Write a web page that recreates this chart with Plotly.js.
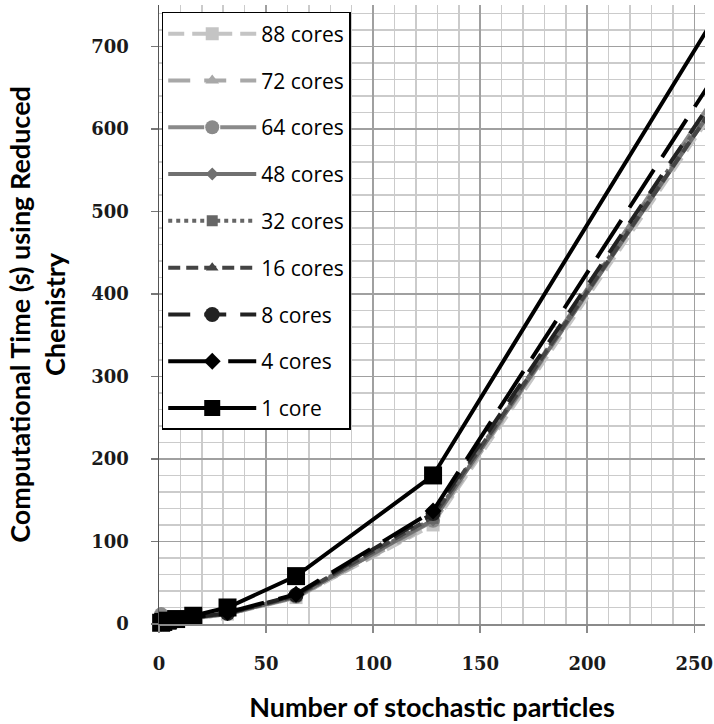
<!DOCTYPE html>
<html><head><meta charset="utf-8">
<script src="https://cdn.plot.ly/plotly-3.0.1.min.js"></script>
<style>html,body{margin:0;padding:0;background:#fff}#chart{width:714px;height:724px}</style>
</head><body><div id="chart"></div>
<script>
// Data
const particles = [1, 2, 4, 8, 16, 32, 64, 128, 256];
const seriesNames = ['88 cores', '72 cores', '64 cores', '48 cores', '32 cores', '16 cores', '8 cores', '4 cores', '1 core'];
const cores88 = [2, 2, 3, 4, 7, 12, 32, 120, 610];
const cores72 = [2, 2, 3, 4, 7, 12, 32, 122, 618];
const cores64 = [12, 3, 3, 4, 7.5, 12.5, 33, 125, 625];
const cores48 = [1.5, 2, 3, 4, 7.5, 12.5, 33, 126, 615];
const cores32 = [1.5, 2, 3, 4, 7.5, 12.5, 34, 128, 620];
const cores16 = [1, 1.5, 2.5, 4, 8, 13, 34, 130, 615];
const cores8 = [1, 1.5, 2.5, 4, 8, 13, 35, 134, 625];
const cores4 = [1, 1.5, 2.5, 4, 8, 14, 36, 137, 650];
const cores1 = [1.5, 2.5, 4, 6, 10, 20, 58, 180, 720];
const xTicks = [0, 50, 100, 150, 200, 250];
const yTicks = [0, 100, 200, 300, 400, 500, 600, 700];

const values = [cores88, cores72, cores64, cores48, cores32, cores16, cores8, cores4, cores1];
const styles = [
  {color: '#c4c4c4', dash: '16px,8px', symbol: 'square', size: 13},
  {color: '#a8a8a8', dash: '22px,14px', symbol: 'triangle-up', size: 12},
  {color: '#8a8a8a', dash: '36px,16px', symbol: 'circle', size: 14},
  {color: '#707070', dash: 'solid', symbol: 'diamond', size: 10},
  {color: '#666666', dash: 'dot', symbol: 'square', size: 11},
  {color: '#444444', dash: '12px,6px', symbol: 'triangle-up', size: 11},
  {color: '#222222', dash: '22px,14px', symbol: 'circle', size: 15},
  {color: '#000000', dash: '45px,15px', symbol: 'diamond', size: 13},
  {color: '#000000', dash: 'solid', symbol: 'square', size: 18}
];

const traces = values.map((v, i) => ({
  x: particles, y: v, name: seriesNames[i], type: 'scatter', mode: 'lines+markers',
  legendgroup: 'g' + i,
  line: {color: styles[i].color, width: 4, dash: styles[i].dash},
  marker: {color: styles[i].color, symbol: styles[i].symbol, size: styles[i].size},
  cliponaxis: false
}));

const tickFont = {family: 'DejaVu Serif', size: 18, color: '#1a1a1a', weight: 'bold'};
const titleFont = {family: 'Lato', size: 27, color: '#000', weight: 'bold'};

const layout = {
  width: 714, height: 724,
  margin: {l: 159, r: 9, t: 5, b: 100},
  paper_bgcolor: '#fff', plot_bgcolor: '#fff',
  showlegend: true,
  xaxis: {
    range: [0, 255], tickvals: xTicks, ticktext: xTicks.map(String),
    showgrid: true, gridcolor: '#a0a0a0', gridwidth: 1.5,
    minor: {dtick: 10, tick0: 0, showgrid: true, gridcolor: '#cbcbcb', gridwidth: 1.5},
    zeroline: false, showline: true, linecolor: '#8a8a8a', linewidth: 1.5,
    ticks: 'outside', ticklen: 7, tickcolor: '#8a8a8a', tickwidth: 1.5,
    tickfont: tickFont, ticklabelstandoff: 16,
    title: {text: 'Number of stochastic particles', font: titleFont, standoff: 25}
  },
  yaxis: {
    range: [0, 750], tickvals: yTicks, ticktext: yTicks.map(String),
    showgrid: true, gridcolor: '#a0a0a0', gridwidth: 1.5,
    minor: {dtick: 20, tick0: 0, showgrid: true, gridcolor: '#cbcbcb', gridwidth: 1.5},
    zeroline: false, showline: true, linecolor: '#555', linewidth: 1.5,
    ticks: 'outside', ticklen: 7, tickcolor: '#777', tickwidth: 1.5,
    tickfont: tickFont, ticklabelstandoff: 18,
    title: {text: 'Computational Time (s) using Reduced<br>Chemistry', font: titleFont, standoff: 18}
  },
  legend: {
    x: 0.005, y: 0.9887, xanchor: 'left', yanchor: 'top',
    bgcolor: '#fff', bordercolor: '#000', borderwidth: 1.5,
    font: {family: 'Open Sans', size: 21, color: '#000'},
    itemwidth: 88, tracegroupgap: 16.5, traceorder: 'grouped'
  }
};

Plotly.newPlot('chart', traces, layout, {displayModeBar: false, staticPlot: true});
</script>
</body></html>
